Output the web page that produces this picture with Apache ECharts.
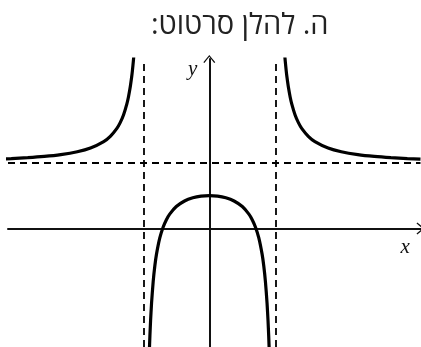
<!DOCTYPE html>
<html>
<head>
<meta charset="utf-8">
<script src="https://cdn.jsdelivr.net/npm/echarts@6/dist/echarts.min.js"></script>
<style>
    html, body { margin: 0; padding: 0; background: #fff; }
    #chart { width: 421px; height: 347px; }
</style>
</head>
<body>
<div id="chart"></div>
<script>
// 数据：曲线上读出的点（三段），渐近线位置
var upperLeftX = [-6.4, -6.0, -5.5, -5.0, -4.5, -4.0, -3.6, -3.2, -3.0, -2.8, -2.7, -2.6, -2.5, -2.45, -2.4, -2.35, -2.33, -2.3, -2.28];
var upperLeftY = [2.108, 2.125, 2.152, 2.190, 2.246, 2.333, 2.446, 2.641, 2.8, 3.042, 3.216, 3.449, 3.778, 3.997, 4.273, 4.627, 4.799, 5.101, 5.338];

var upperRightX = [2.28, 2.3, 2.33, 2.35, 2.4, 2.45, 2.5, 2.6, 2.7, 2.8, 3.0, 3.2, 3.6, 4.0, 4.5, 5.0, 5.5, 6.0, 6.4];
var upperRightY = [5.338, 5.101, 4.799, 4.627, 4.273, 3.997, 3.778, 3.449, 3.216, 3.042, 2.8, 2.641, 2.446, 2.333, 2.246, 2.190, 2.152, 2.125, 2.108];

var middleX = [-1.82, -1.8, -1.78, -1.75, -1.7, -1.65, -1.6, -1.5, -1.4, -1.3, -1.2, -1.0, -0.75, -0.5, -0.25, 0, 0.25, 0.5, 0.75, 1.0, 1.2, 1.3, 1.4, 1.5, 1.6, 1.65, 1.7, 1.75, 1.78, 1.8, 1.82];
var middleY = [-3.817, -3.263, -2.810, -2.267, -1.604, -1.131, -0.778, -0.286, 0.039, 0.268, 0.4375, 0.667, 0.836, 0.933, 0.984, 1, 0.984, 0.933, 0.836, 0.667, 0.4375, 0.268, 0.039, -0.286, -0.778, -1.131, -1.604, -2.267, -2.810, -3.263, -3.817];

var asymptoteX = [-2, 2];
var asymptoteY = [2];

var titleText = 'ה. להלן סרטוט:';

function pairs(xs, ys) {
    return xs.map(function (x, i) { return [x, ys[i]]; });
}

// 空心箭头（开口的 V 形）
var openArrow = 'path://M0,6 L5,0 L10,6 L9.1,6.7 L5,1.5 L0.9,6.7 Z';

var chart = echarts.init(document.getElementById('chart'));

var curveStyle = { color: '#000', width: 3.2 };

var option = {
    animation: false,
    title: {
        // 从右到左排版（RLE ... PDF）
        text: '\u202B' + titleText + '\u202C',
        left: 146,
        top: 6,
        textStyle: {
            fontFamily: "'Open Sans', 'Noto Sans', 'DejaVu Sans', sans-serif",
            fontSize: 29,
            fontWeight: 'normal',
            color: '#222'
        }
    },
    grid: {
        left: 8,
        top: 59,
        width: 412.5,
        height: 288.75
    },
    xAxis: {
        type: 'value',
        min: -6.1,
        max: 6.4,
        name: 'x',
        nameLocation: 'end',
        nameGap: -20,
        nameTextStyle: {
            fontFamily: "'Liberation Serif', serif",
            fontStyle: 'italic',
            fontSize: 21,
            color: '#111',
            verticalAlign: 'top',
            padding: [8, 0, 0, 0]
        },
        axisLine: {
            onZero: true,
            symbol: ['none', openArrow],
            symbolSize: [12, 8],
            lineStyle: { color: '#111', width: 2 }
        },
        axisTick: { show: false },
        axisLabel: { show: false },
        splitLine: { show: false }
    },
    yAxis: {
        type: 'value',
        min: -3.6,
        max: 5.15,
        name: 'y',
        nameLocation: 'end',
        nameGap: 0,
        nameTextStyle: {
            fontFamily: "'Liberation Serif', serif",
            fontStyle: 'italic',
            fontSize: 21,
            color: '#111',
            align: 'right',
            verticalAlign: 'top',
            padding: [0, 12, 0, 0]
        },
        axisLine: {
            onZero: true,
            symbol: ['none', openArrow],
            symbolSize: [12, 8],
            lineStyle: { color: '#111', width: 2 }
        },
        axisTick: { show: false },
        axisLabel: { show: false },
        splitLine: { show: false }
    },
    series: [
        {
            type: 'line',
            data: pairs(upperLeftX, upperLeftY),
            showSymbol: false,
            smooth: 0.2,
            lineStyle: curveStyle
        },
        {
            type: 'line',
            data: pairs(upperRightX, upperRightY),
            showSymbol: false,
            smooth: 0.2,
            lineStyle: curveStyle
        },
        {
            type: 'line',
            data: pairs(middleX, middleY),
            showSymbol: false,
            smooth: 0.2,
            lineStyle: curveStyle,
            // 渐近线（虚线）
            markLine: {
                silent: true,
                symbol: 'none',
                label: { show: false },
                lineStyle: { color: '#000', width: 1.8, type: [7, 5] },
                data: asymptoteX.map(function (v) { return { xAxis: v }; })
                    .concat(asymptoteY.map(function (v) { return { yAxis: v }; }))
            }
        }
    ]
};

chart.setOption(option);
</script>
</body>
</html>
